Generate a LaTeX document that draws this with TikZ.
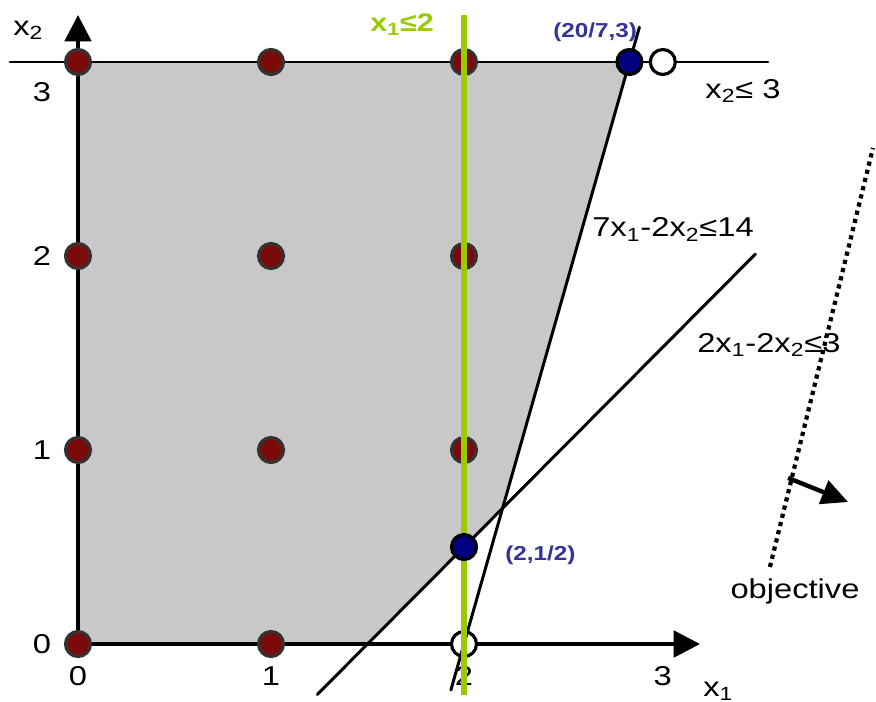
\documentclass[tikz,border=0pt]{standalone}
\usepackage{fontspec}
\setmainfont{Liberation Sans}[FakeStretch=1.2]
\usepackage{xcolor}
\usetikzlibrary{arrows.meta}
\definecolor{clrRegion}{RGB}{200,200,200}
\definecolor{clrPoint}{RGB}{125,10,10}
\definecolor{clrVertex}{RGB}{0,0,128}
\definecolor{clrVertexTxt}{RGB}{51,51,153}
\definecolor{clrCut}{RGB}{153,204,0}
\tikzset{
  axis/.style={line width=2.3pt,-{Triangle[length=15pt,width=15pt]}},
  bound/.style={line width=1.7pt,line cap=round},
  cutline/.style={line width=3.4pt,draw=clrCut},
  objline/.style={line width=2.4pt,dash pattern=on 2.4pt off 2.4pt},
  objarrow/.style={line width=2.5pt,-{Triangle[length=15pt,width=14pt]}},
  lattice/.style={circle,draw=black!80,fill=clrPoint,line width=1.8pt,
    minimum size=0.5cm,inner sep=0pt},
  hollow/.style={lattice,draw=black,fill=white},
  vertex/.style={lattice,draw=black,fill=clrVertex},
  ticklabel/.style={inner sep=0pt},
  constraintlabel/.style={inner sep=0pt,anchor=base west},
  vertexlabel/.style={inner sep=0pt,anchor=base west,
    font=\fontsize{11.5}{13}\selectfont\bfseries,text=clrVertexTxt},
  cutlabel/.style={inner sep=0pt,anchor=base west,
    font=\fontsize{14.5}{16}\selectfont\bfseries,text=clrCut}
}
\begin{document}
\begin{tikzpicture}[x=3.86cm,y=3.88cm,font=\fontsize{15.5}{18}\selectfont]
  \useasboundingbox (-0.4041,-0.2938) rectangle (4.1347,3.3196);

  % feasible region of the relaxation
  \fill[clrRegion] (0,0) -- (0,3) -- (20/7,3) -- (2.2,0.7) -- (1.5,0) -- cycle;

  % axes
  \coordinate (origin) at (0,0);
  \coordinate (x-end) at (3.223,0);
  \coordinate (y-end) at (0,3.242);
  \draw[axis] (origin) -- (x-end);
  \draw[axis] (origin) -- (y-end);
  \node[ticklabel] (tx0) at (0,-0.165) {0};
  \node[ticklabel] (tx1) at (1,-0.165) {1};
  \node[ticklabel] (tx2) at (2,-0.165) {2};
  \node[ticklabel] (tx3) at (3.03,-0.165) {3};
  \node[ticklabel] (ty0) at (-0.187,0) {0};
  \node[ticklabel] (ty1) at (-0.187,1) {1};
  \node[ticklabel] (ty2) at (-0.187,2) {2};
  \node[ticklabel] (ty3) at (-0.187,2.845) {3};
  \node[constraintlabel] (lbl-x1) at (3.238,-0.27) {x\textsubscript{1}};
  \node[constraintlabel] (lbl-x2) at (-0.337,3.139) {x\textsubscript{2}};

  % constraints
  \coordinate (h-w) at (-0.352,3);
  \coordinate (h-e) at (3.575,3);
  \draw[bound] (h-w) -- (h-e);
  \coordinate (c2-s) at (1.24,-0.26);
  \coordinate (c2-n) at (3.51,2.01);
  \draw[bound] (c2-s) -- (c2-n);

  % integer points
  \node[lattice] (p00) at (0,0) {};
  \node[lattice] (p10) at (1,0) {};
  \node[hollow] (p20) at (2,0) {};
  \node[lattice] (p01) at (0,1) {};
  \node[lattice] (p11) at (1,1) {};
  \node[lattice] (p21) at (2,1) {};
  \node[lattice] (p02) at (0,2) {};
  \node[lattice] (p12) at (1,2) {};
  \node[lattice] (p22) at (2,2) {};
  \node[lattice] (p03) at (0,3) {};
  \node[lattice] (p13) at (1,3) {};
  \node[lattice] (p23) at (2,3) {};
  \node[hollow] (p33) at (3.03,3) {};

  \coordinate (c7-s) at (1.932,-0.237);
  \coordinate (c7-n) at (2.909,3.18);
  \draw[bound] (c7-s) -- (c7-n);

  % branching cut
  \coordinate (cut-s) at (2,-0.263);
  \coordinate (cut-n) at (2,3.242);
  \draw[cutline] (cut-s) -- (cut-n);

  % LP vertices
  \node[vertex] (v-top) at (20/7,3) {};
  \node[vertex] (v-low) at (2,0.5) {};

  % objective
  \coordinate (obj-s) at (3.585,0.397);
  \coordinate (obj-n) at (4.119,2.557);
  \draw[objline] (obj-s) -- (obj-n);
  \coordinate (dir-s) at (3.679,0.856);
  \coordinate (dir-e) at (3.99,0.732);
  \draw[objarrow] (dir-s) -- (dir-e);

  % labels
  \node[cutlabel] (lbl-cut) at (1.513,3.155) {x\textsubscript{1}≤2};
  \node[vertexlabel] (lbl-top) at (2.461,3.124) {(20/7,3)};
  \node[vertexlabel] (lbl-low) at (2.212,0.433) {(2,1/2)};
  \node[constraintlabel] (lbl-h) at (3.249,2.814) {x\textsubscript{2}≤ 3};
  \node[constraintlabel] (lbl-c7) at (2.663,2.098)
    {7x\textsubscript{1}-2x\textsubscript{2}≤14};
  \node[constraintlabel] (lbl-c2) at (3.207,1.505)
    {2x\textsubscript{1}-2x\textsubscript{2}≤3};
  \node[inner sep=0pt,anchor=base] (lbl-obj) at (3.715,0.237) {objective};
\end{tikzpicture}
\end{document}
